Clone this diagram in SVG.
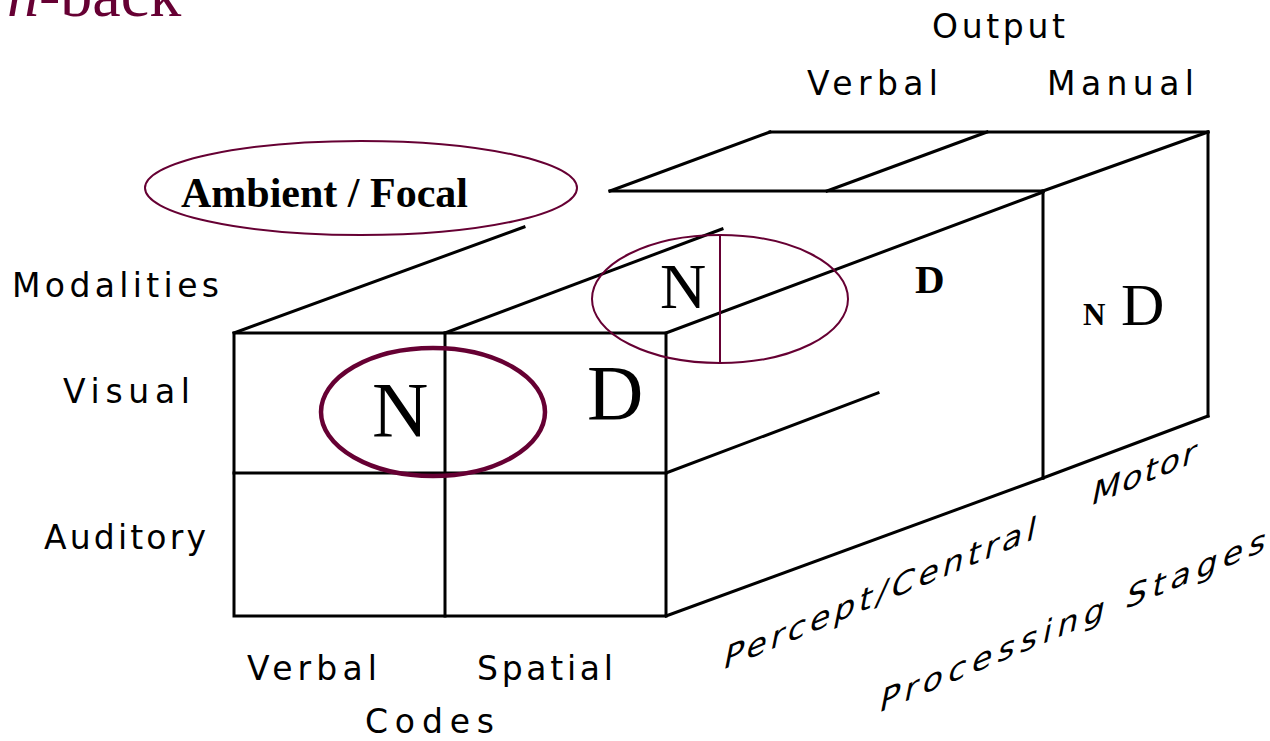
<svg xmlns="http://www.w3.org/2000/svg" width="1270" height="741" viewBox="0 0 1270 741">
<style>
.ln{stroke:#000;stroke-width:3;fill:none;stroke-linecap:square}
.lbl{font-family:"DejaVu Sans","Liberation Sans",sans-serif;font-size:33px;fill:#000}
.ser{font-family:"Liberation Serif","Times New Roman",serif;fill:#000}
.ell{fill:none;stroke:#660033}
</style>
<rect width="1270" height="741" fill="#fff"/>
<g id="title"><text x="7" y="16" class="ser" font-size="64" fill="#660033" style="fill:#660033"><tspan font-style="italic">n</tspan>-back</text></g>
<g id="connectors">
<rect class="ln" x="234" y="333" width="432" height="283"/>
<line class="ln" x1="445" y1="333" x2="445" y2="616"/>
<line class="ln" x1="234" y1="473" x2="666" y2="473"/>
<line class="ln" x1="234" y1="333" x2="524" y2="227"/>
<line class="ln" x1="445" y1="333" x2="722" y2="229"/>
<line class="ln" x1="666" y1="333" x2="1043" y2="192"/>
<line class="ln" x1="666" y1="473" x2="878" y2="393"/>
<line class="ln" x1="666" y1="616" x2="1043" y2="478"/>
<line class="ln" x1="610" y1="191" x2="1043" y2="191"/>
<line class="ln" x1="770" y1="132" x2="1208" y2="132"/>
<line class="ln" x1="610" y1="191" x2="770" y2="132"/>
<line class="ln" x1="827" y1="191" x2="987" y2="132"/>
<line class="ln" x1="1043" y1="191" x2="1208" y2="132"/>
<line class="ln" x1="1043" y1="191" x2="1043" y2="478"/>
<line class="ln" x1="1208" y1="132" x2="1208" y2="416"/>
<line class="ln" x1="1043" y1="478" x2="1208" y2="416"/>
</g>
<g id="ambient-focal">
<ellipse class="ell" cx="361" cy="188" rx="216" ry="47" stroke-width="2"/>
<text x="181" y="207" class="ser" font-size="42" font-weight="bold">Ambient / Focal</text>
</g>
<g id="front-ellipse">
<ellipse class="ell" cx="433" cy="412" rx="112" ry="64" stroke-width="4.5"/>
<text x="372" y="436" class="ser" font-size="78">N</text>
</g>
<g id="front-D"><text x="587" y="419" class="ser" font-size="78">D</text></g>
<g id="central-ellipse">
<ellipse class="ell" cx="720" cy="299" rx="128" ry="64" stroke-width="2"/>
<line x1="720" y1="236" x2="720" y2="364" stroke="#660033" stroke-width="2"/>
<text x="660" y="308" class="ser" font-size="64">N</text>
</g>
<g id="central-D"><text x="915" y="293" class="ser" font-size="41" font-weight="bold">D</text></g>
<g id="motor-ND">
<text x="1083" y="325" class="ser" font-size="31" font-weight="bold">N</text>
<text x="1121" y="325" class="ser" font-size="60">D</text>
</g>
<g id="labels">
<text class="lbl" x="932" y="38" textLength="133" lengthAdjust="spacing">Output</text>
<text class="lbl" x="807" y="95" textLength="131" lengthAdjust="spacing">Verbal</text>
<text class="lbl" x="1047" y="95" textLength="147" lengthAdjust="spacing">Manual</text>
<text class="lbl" x="12" y="297" textLength="207" lengthAdjust="spacing">Modalities</text>
<text class="lbl" x="63" y="403" textLength="127" lengthAdjust="spacing">Visual</text>
<text class="lbl" x="44" y="549" textLength="162" lengthAdjust="spacing">Auditory</text>
<text class="lbl" x="247" y="680" textLength="130" lengthAdjust="spacing">Verbal</text>
<text class="lbl" x="477" y="680" textLength="136" lengthAdjust="spacing">Spatial</text>
<text class="lbl" x="365" y="733" textLength="129" lengthAdjust="spacing">Codes</text>
<text class="lbl" transform="matrix(1,-0.42,-0.2,1,722,670)" textLength="312" lengthAdjust="spacing">Percept/Central</text>
<text class="lbl" transform="matrix(1,-0.42,-0.2,1,1090,506)" textLength="104" lengthAdjust="spacing">Motor</text>
<text class="lbl" transform="matrix(1,-0.42,-0.2,1,878,713)" textLength="386" lengthAdjust="spacing">Processing Stages</text>
</g>
</svg>
